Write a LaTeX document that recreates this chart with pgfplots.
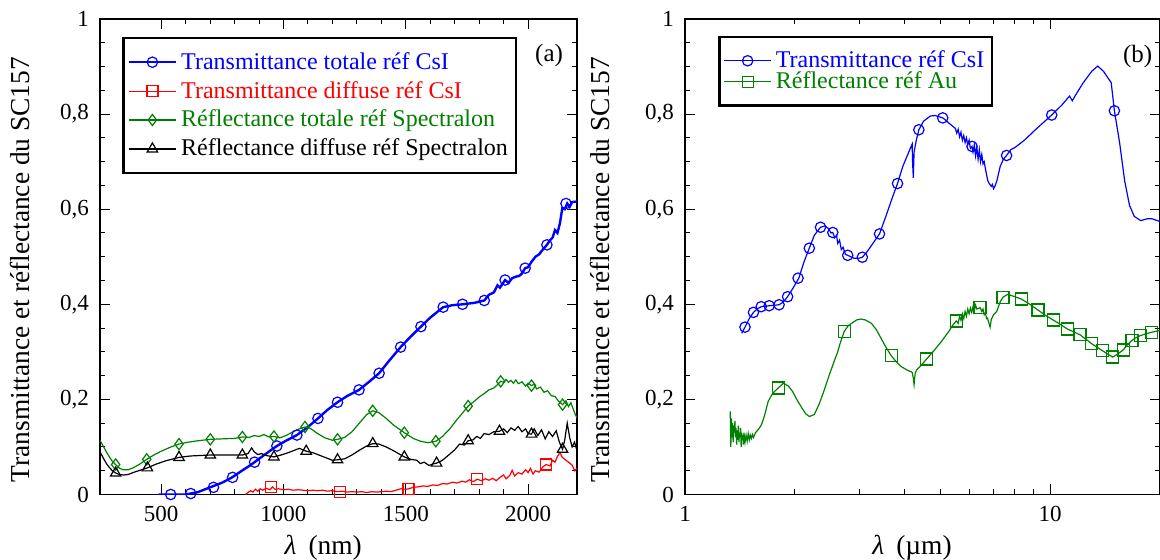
\documentclass[border=0pt]{standalone}
\usepackage{fontspec}
\setmainfont{Liberation Serif}
\usepackage{pgfplots}
\usepackage{pgfplotstable}
\pgfplotsset{compat=1.18}
\definecolor{mygreen}{RGB}{0,128,0}
\definecolor{myblue}{RGB}{0,0,255}
\definecolor{myred}{RGB}{255,0,0}

\pgfplotstableread{
x y
490 0
540 0
600 0
650 0.005
700 0.015
750 0.025
790 0.036
830 0.05
860 0.06
882 0.068
900 0.075
940 0.09
973 0.102
1010 0.113
1055 0.125
1100 0.142
1141 0.16
1180 0.178
1221 0.194
1260 0.207
1309 0.22
1350 0.237
1391 0.255
1430 0.28
1479 0.31
1520 0.332
1562 0.353
1600 0.372
1653 0.394
1690 0.398
1732 0.40
1780 0.403
1821 0.408
1840 0.42
1860 0.425
1875 0.44
1885 0.435
1906 0.451
1920 0.445
1935 0.455
1950 0.458
1965 0.46
1975 0.465
1988 0.476
2000 0.478
2015 0.49
2030 0.50
2045 0.505
2060 0.515
2077 0.525
2090 0.535
2100 0.54
2110 0.556
2120 0.55
2130 0.57
2140 0.602
2150 0.60
2160 0.612
2170 0.605
2180 0.615
2200 0.616
}\TtotA
\pgfplotstableread{
x y
539 0
621 0.002
714 0.015
792 0.036
882 0.068
973 0.102
1055 0.125
1141 0.16
1221 0.194
1309 0.22
1391 0.255
1479 0.31
1562 0.353
1653 0.394
1732 0.40
1821 0.408
1906 0.451
1988 0.476
2077 0.525
2155 0.612
}\TtotAm
\pgfplotstableread{
x y
845 0.000
855 0.004
865 0.008
875 0.005
885 0.011
895 0.007
905 0.012
915 0.009
930 0.013
945 0.010
955 0.016
965 0.011
980 0.012
1000 0.010
1020 0.011
1040 0.009
1060 0.010
1080 0.009
1100 0.008
1120 0.009
1140 0.008
1160 0.009
1180 0.007
1200 0.008
1220 0.006
1240 0.007
1260 0.005
1280 0.006
1300 0.005
1320 0.006
1340 0.004
1360 0.006
1380 0.005
1400 0.006
1420 0.007
1440 0.006
1460 0.009
1480 0.012
1500 0.011
1512 0.012
1530 0.015
1550 0.016
1570 0.018
1590 0.017
1610 0.020
1630 0.019
1650 0.023
1670 0.022
1690 0.026
1710 0.024
1730 0.028
1745 0.026
1760 0.031
1775 0.027
1792 0.032
1810 0.029
1825 0.033
1840 0.030
1855 0.034
1870 0.029
1885 0.036
1900 0.041
1910 0.033
1925 0.040
1935 0.051
1945 0.039
1960 0.046
1975 0.043
1990 0.052
2000 0.046
2010 0.055
2020 0.043
2030 0.050
2045 0.047
2060 0.058
2074 0.063
2090 0.060
2100 0.072
2110 0.068
2120 0.080
2130 0.088
2140 0.078
2150 0.074
2160 0.070
2170 0.066
2180 0.062
2190 0.050
2200 0.055
}\TdifA
\pgfplotstableread{
x y
950 0.016
1232 0.005
1511 0.011
1791 0.032
2074 0.063
}\TdifAm
\pgfplotstableread{
x y
250 0.114
265 0.100
280 0.086
300 0.070
315 0.062
330 0.055
345 0.052
365 0.052
385 0.056
410 0.063
441 0.074
470 0.083
500 0.091
540 0.100
573 0.106
610 0.110
650 0.113
701 0.116
750 0.117
800 0.118
832 0.121
860 0.120
880 0.124
900 0.122
920 0.126
940 0.121
961 0.122
985 0.119
1010 0.124
1040 0.132
1065 0.138
1088 0.142
1110 0.139
1140 0.128
1170 0.119
1200 0.114
1221 0.116
1250 0.120
1280 0.132
1310 0.150
1340 0.168
1365 0.176
1390 0.172
1420 0.160
1450 0.146
1494 0.130
1530 0.118
1560 0.112
1590 0.109
1623 0.112
1650 0.122
1680 0.138
1710 0.158
1730 0.170
1755 0.186
1780 0.196
1800 0.205
1820 0.212
1840 0.220
1860 0.224
1875 0.231
1888 0.238
1900 0.236
1910 0.242
1920 0.236
1930 0.240
1940 0.234
1950 0.241
1960 0.233
1975 0.237
1990 0.228
2000 0.234
2014 0.229
2025 0.232
2035 0.222
2050 0.226
2065 0.215
2080 0.218
2095 0.208
2110 0.206
2125 0.196
2141 0.189
2155 0.197
2165 0.185
2175 0.193
2190 0.172
2200 0.161
}\RtotA
\pgfplotstableread{
x y
314 0.063
441 0.074
573 0.106
701 0.116
832 0.121
961 0.122
1088 0.142
1221 0.116
1365 0.176
1494 0.130
1623 0.112
1755 0.186
1888 0.238
2014 0.229
2141 0.189
}\RtotAm
\pgfplotstableread{
x y
250 0.090
265 0.075
280 0.062
300 0.050
315 0.045
330 0.042
345 0.041
365 0.042
390 0.047
420 0.052
444 0.056
480 0.064
520 0.071
573 0.078
620 0.081
660 0.082
701 0.083
750 0.083
800 0.083
832 0.083
855 0.086
870 0.098
880 0.090
895 0.084
910 0.086
930 0.082
961 0.079
990 0.083
1020 0.088
1050 0.094
1065 0.097
1093 0.091
1120 0.088
1150 0.082
1180 0.076
1200 0.072
1221 0.073
1250 0.075
1280 0.083
1310 0.093
1340 0.102
1365 0.107
1390 0.106
1420 0.100
1450 0.092
1494 0.079
1520 0.074
1545 0.072
1560 0.065
1575 0.068
1595 0.061
1610 0.064
1626 0.066
1650 0.072
1680 0.085
1700 0.094
1720 0.106
1740 0.104
1755 0.113
1775 0.115
1790 0.122
1805 0.118
1820 0.128
1840 0.126
1860 0.132
1883 0.133
1900 0.138
1915 0.130
1930 0.140
1945 0.135
1960 0.143
1975 0.132
1990 0.138
2000 0.128
2014 0.127
2025 0.138
2040 0.124
2055 0.136
2070 0.117
2085 0.132
2100 0.122
2115 0.134
2128 0.110
2141 0.095
2150 0.115
2160 0.150
2170 0.120
2180 0.100
2190 0.110
2200 0.092
}\RdifA
\pgfplotstableread{
x y
314 0.045
444 0.056
573 0.078
701 0.083
832 0.083
961 0.079
1093 0.091
1221 0.073
1365 0.107
1494 0.079
1626 0.066
1755 0.113
1883 0.133
2014 0.127
2141 0.095
}\RdifAm
\pgfplotstableread{
x y
1.43 0.339
1.46 0.352
1.50 0.37
1.54 0.383
1.58 0.391
1.62 0.395
1.70 0.397
1.81 0.399
1.86 0.405
1.91 0.416
1.98 0.435
2.05 0.455
2.12 0.49
2.19 0.518
2.26 0.545
2.35 0.562
2.42 0.565
2.48 0.558
2.51 0.55
2.54 0.551
2.57 0.54
2.6 0.545
2.62 0.528
2.65 0.535
2.68 0.515
2.71 0.52
2.75 0.505
2.79 0.503
2.9 0.497
3.0 0.497
3.06 0.499
3.15 0.51
3.25 0.525
3.41 0.548
3.55 0.585
3.7 0.625
3.82 0.654
3.95 0.69
4.1 0.72
4.19 0.737
4.2 0.70
4.22 0.666
4.24 0.72
4.3 0.745
4.37 0.767
4.5 0.785
4.7 0.796
4.85 0.797
5.08 0.792
5.2 0.786
5.3 0.78
5.4 0.775
5.5 0.77
5.55 0.76
5.6 0.768
5.65 0.752
5.7 0.762
5.75 0.745
5.8 0.755
5.85 0.74
5.9 0.75
5.95 0.735
6.0 0.745
6.05 0.728
6.11 0.732
6.15 0.72
6.2 0.735
6.25 0.712
6.3 0.73
6.35 0.705
6.4 0.725
6.45 0.70
6.5 0.715
6.55 0.695
6.6 0.70
6.65 0.685
6.7 0.672
6.75 0.66
6.8 0.655
6.9 0.648
6.95 0.652
7.0 0.643
7.06 0.648
7.15 0.66
7.3 0.69
7.45 0.705
7.6 0.713
7.8 0.725
8.02 0.730
8.5 0.745
9.2 0.77
10.1 0.798
10.8 0.82
11.3 0.838
11.5 0.828
11.7 0.838
12.3 0.865
13.0 0.89
13.5 0.901
14.0 0.89
14.7 0.866
15.0 0.807
15.5 0.74
16.0 0.66
16.5 0.608
17.0 0.585
17.7 0.576
18.5 0.58
19.0 0.58
20.0 0.574
}\TB
\pgfplotstableread{
x y
1.46 0.352
1.54 0.383
1.617 0.395
1.70 0.397
1.81 0.399
1.91 0.416
2.04 0.455
2.19 0.518
2.35 0.562
2.54 0.551
2.79 0.503
3.06 0.499
3.41 0.548
3.82 0.654
4.37 0.767
5.08 0.792
6.11 0.732
7.6 0.713
10.1 0.798
15.0 0.807
}\TBm
\pgfplotstableread{
x y
1.330 0.175
1.335 0.10
1.340 0.16
1.345 0.12
1.350 0.15
1.355 0.11
1.360 0.145
1.365 0.13
1.370 0.155
1.375 0.12
1.380 0.14
1.385 0.105
1.390 0.135
1.395 0.115
1.400 0.145
1.405 0.11
1.410 0.13
1.415 0.12
1.420 0.14
1.425 0.10
1.430 0.13
1.435 0.115
1.440 0.125
1.445 0.105
1.450 0.13
1.460 0.11
1.470 0.125
1.480 0.112
1.490 0.128
1.500 0.115
1.510 0.125
1.520 0.118
1.530 0.126
1.540 0.12
1.560 0.13
1.580 0.135
1.600 0.14
1.620 0.147
1.650 0.165
1.690 0.196
1.74 0.213
1.80 0.224
1.86 0.234
1.92 0.228
1.97 0.217
2.03 0.198
2.09 0.182
2.14 0.170
2.19 0.164
2.26 0.168
2.33 0.19
2.40 0.217
2.48 0.25
2.57 0.283
2.62 0.30
2.66 0.318
2.73 0.343
2.80 0.355
2.86 0.360
2.95 0.367
3.03 0.369
3.12 0.367
3.24 0.360
3.34 0.347
3.44 0.329
3.55 0.31
3.67 0.292
3.80 0.278
3.91 0.269
4.05 0.262
4.19 0.257
4.22 0.245
4.24 0.231
4.27 0.255
4.31 0.262
4.45 0.273
4.59 0.285
4.80 0.302
5.04 0.322
5.28 0.343
5.4 0.355
5.53 0.365
5.6 0.36
5.65 0.375
5.7 0.366
5.75 0.38
5.8 0.37
5.85 0.385
5.9 0.375
5.95 0.39
6.0 0.38
6.05 0.392
6.1 0.383
6.15 0.395
6.2 0.387
6.25 0.398
6.3 0.39
6.43 0.393
6.5 0.385
6.55 0.39
6.6 0.378
6.65 0.382
6.7 0.37
6.74 0.371
6.8 0.36
6.85 0.352
6.9 0.368
7.0 0.378
7.14 0.385
7.3 0.405
7.43 0.415
7.66 0.421
8.0 0.416
8.34 0.411
8.8 0.40
9.26 0.388
9.7 0.377
10.19 0.367
10.7 0.357
11.15 0.348
11.6 0.342
12.07 0.336
12.5 0.327
13.0 0.317
13.5 0.309
13.94 0.302
14.4 0.295
14.84 0.289
15.3 0.295
15.85 0.304
16.3 0.315
16.75 0.324
17.2 0.33
17.66 0.334
18.3 0.338
18.93 0.341
20.0 0.345
}\RB
\pgfplotstableread{
x y
1.80 0.224
2.73 0.343
3.67 0.292
4.59 0.285
5.53 0.365
6.43 0.393
7.43 0.415
8.34 0.411
9.26 0.388
10.19 0.367
11.15 0.348
12.07 0.336
13.0 0.317
13.94 0.302
14.84 0.289
15.85 0.304
16.75 0.324
17.66 0.334
18.93 0.341
}\RBm

\pgfplotsset{
  myaxis/.style={
    scale only axis,
    height=237.75pt,
    ymin=0, ymax=1,
    ytick={0,0.2,0.4,0.6,0.8,1},
    yticklabels={0,{0,2},{0,4},{0,6},{0,8},1},
    minor y tick num=3,
    tick pos=both,
    tick align=inside,
    major tick length=5pt,
    minor tick length=2.5pt,
    axis line style={line width=0.6pt},
    every tick/.style={black, line width=0.5pt},
    tick label style={font=\fontsize{11.5}{13}\selectfont},
    yticklabel style={xshift=-2pt},
    xticklabel style={yshift=-2.5pt},
    label style={font=\fontsize{13.7}{16}\selectfont},
    ylabel={Transmittance et réflectance du SC157},
    legend cell align=left,
    legend image code/.code={\draw[mark repeat=2,mark phase=2,##1] plot coordinates {(0pt,0pt) (11.8pt,0pt) (23.6pt,0pt)};},
    legend style={draw=black, line width=1.2pt, anchor=north west,
      font=\fontsize{12}{14}\selectfont, inner xsep=2pt, inner ysep=5pt},
  }
}

\begin{document}
\begin{tikzpicture}
\useasboundingbox (0,0) rectangle (580pt,280pt);
\begin{axis}[myaxis,
  at={(50pt,32.75pt)}, anchor=south west,
  width=238.5pt,
  xmin=250, xmax=2200,
  xtick={500,1000,1500,2000},
  xticklabels={500,1000,1500,2000},
  minor x tick num=4,
  xlabel={\textit{λ}\hspace{6pt}(nm)},
  xlabel style={at={(axis description cs:0.468,-0.1125)}, anchor=center},
  ylabel style={at={(axis description cs:-0.167,0.473)}, anchor=center},
  legend style={at={(axis description cs:0.047,0.962)}, row sep=0.5pt},
]
\addplot[myblue, line width=1.2pt, forget plot] table {\TtotA};
\addplot[myblue, only marks, mark=o, mark size=2.6pt, line width=0.6pt, forget plot] table {\TtotAm};
\addplot[myred, line width=0.6pt, forget plot] table {\TdifA};
\addplot[myred, only marks, mark=square, mark size=2.75pt, line width=0.6pt, forget plot] table {\TdifAm};
\addplot[mygreen, line width=0.6pt, forget plot] table {\RtotA};
\addplot[mygreen, only marks, mark=diamond, mark size=2.8pt, line width=0.6pt, forget plot] table {\RtotAm};
\addplot[black, line width=0.6pt, forget plot] table {\RdifA};
\addplot[black, only marks, mark=triangle, mark size=3pt, line width=0.6pt, forget plot] table {\RdifAm};
\addlegendimage{myblue, line width=1.2pt, mark=o, mark options={line width=0.6pt, mark size=2.6pt}}
\addlegendentry{\textcolor{myblue}{Transmittance totale réf CsI}}
\addlegendimage{myred, line width=0.6pt, mark=square, mark options={mark size=2.75pt}}
\addlegendentry{\textcolor{myred}{Transmittance diffuse réf CsI}}
\addlegendimage{mygreen, line width=0.6pt, mark=diamond, mark options={mark size=2.8pt}}
\addlegendentry{\textcolor{mygreen}{Réflectance totale réf Spectralon}}
\addlegendimage{black, line width=0.6pt, mark=triangle, mark options={mark size=3pt}}
\addlegendentry{Réflectance diffuse réf Spectralon}
\node[font=\fontsize{12.5}{14}\selectfont] at (axis description cs:0.9415,0.924) {(a)};
\end{axis}

\begin{axis}[myaxis,
  at={(342.5pt,32.75pt)}, anchor=south west,
  width=237.5pt,
  xmode=log,
  xmin=1, xmax=20,
  xtick={1,10},
  xticklabels={1,10},
  minor xtick={2,3,4,5,6,7,8,9},
  xlabel={\textit{λ}\hspace{6pt}(µm)},
  xlabel style={at={(axis description cs:0.478,-0.1125)}, anchor=center},
  ylabel style={at={(axis description cs:-0.179,0.473)}, anchor=center},
  legend style={at={(axis description cs:0.070,0.965)}, row sep=-3.5pt},
]
\addplot[myblue, line width=0.6pt, forget plot] table {\TB};
\addplot[myblue, only marks, mark=o, mark size=2.6pt, line width=0.6pt, forget plot] table {\TBm};
\addplot[mygreen, line width=0.6pt, forget plot] table {\RB};
\addplot[mygreen, only marks, mark=square, mark size=3pt, line width=0.6pt, forget plot] table {\RBm};
\addlegendimage{myblue, line width=0.6pt, mark=o, mark options={mark size=2.6pt}}
\addlegendentry{\textcolor{myblue}{Transmittance réf CsI}}
\addlegendimage{mygreen, line width=0.6pt, mark=square, mark options={mark size=2.75pt}}
\addlegendentry{\textcolor{mygreen}{Réflectance réf Au}}
\node[font=\fontsize{12.5}{14}\selectfont] at (axis description cs:0.953,0.921) {(b)};
\end{axis}
\end{tikzpicture}
\end{document}
